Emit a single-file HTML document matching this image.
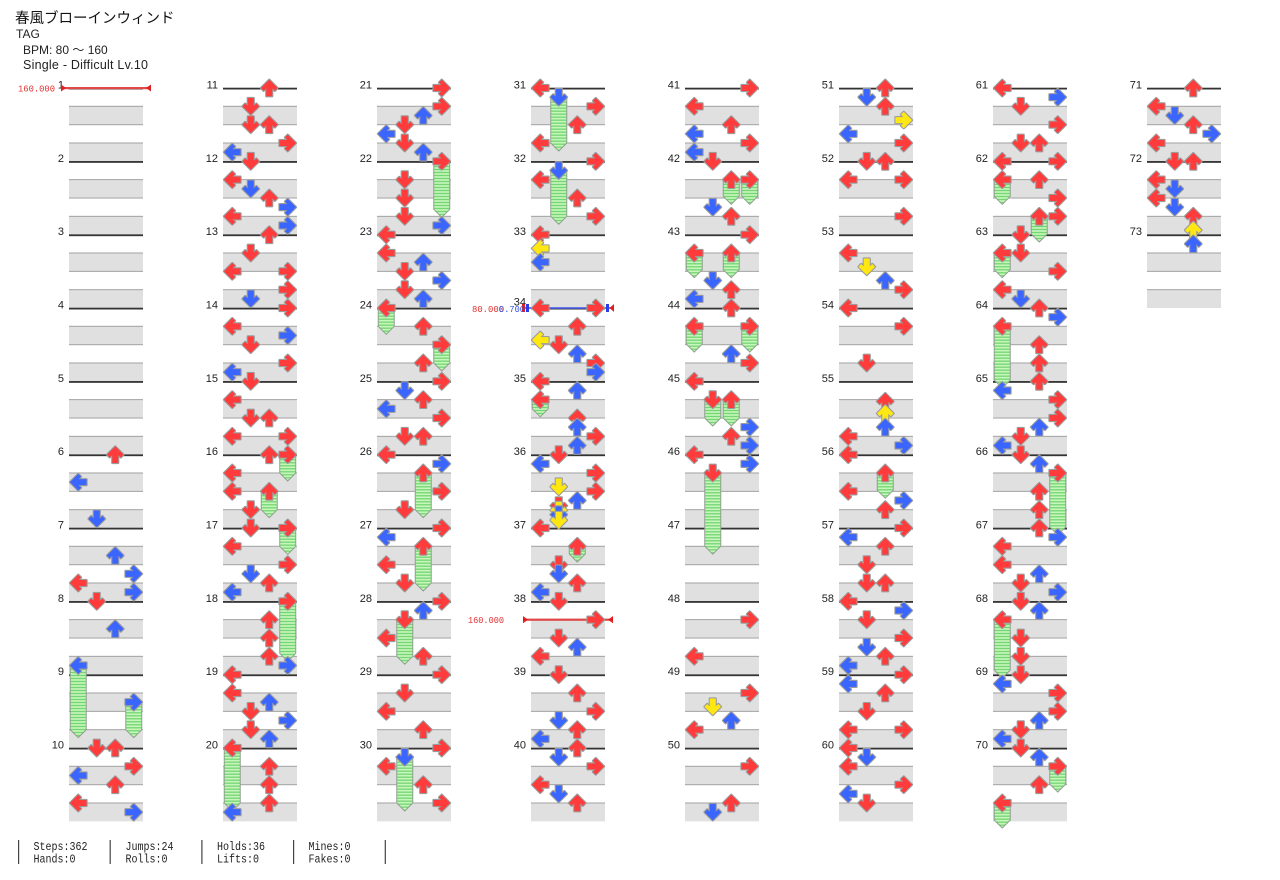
<!DOCTYPE html>
<html><head><meta charset="utf-8">
<style>
html,body{margin:0;padding:0;background:#fff;}
svg{display:block;}
.n{font-family:"Liberation Sans",sans-serif;font-size:11px;fill:#222;text-anchor:end;}
.f{font-family:"Liberation Mono","DejaVu Sans Mono",monospace;font-size:12px;fill:#222;}
.b{font-family:"Liberation Mono","DejaVu Sans Mono",monospace;font-size:9px;}
.h{fill:url(#hs);stroke:#8fa08f;stroke-width:1;}
</style></head>
<body>
<svg width="1280" height="880" viewBox="0 0 1280 880" xmlns="http://www.w3.org/2000/svg">
<defs>
<pattern id="hs" width="20" height="3" patternUnits="userSpaceOnUse"><rect width="20" height="3" fill="#c6f6bb"/><rect y="1.6" width="20" height="1.1" fill="#64d064"/></pattern>
<path id="a" d="M0,-8.3L8.3,0L5.6,2.8L3,0.4V8.3H-3V0.4L-5.6,2.8L-8.3,0Z" stroke="#9c9c9c" stroke-width="2.2" stroke-linejoin="round" paint-order="stroke"/>
<use id="Ur" href="#a" fill="#ff3b3b"/>
<use id="Dr" href="#a" fill="#ff3b3b" transform="rotate(180)"/>
<use id="Lr" href="#a" fill="#ff3b3b" transform="rotate(-90)"/>
<use id="Rr" href="#a" fill="#ff3b3b" transform="rotate(90)"/>
<use id="Ub" href="#a" fill="#3a66ff"/>
<use id="Db" href="#a" fill="#3a66ff" transform="rotate(180)"/>
<use id="Lb" href="#a" fill="#3a66ff" transform="rotate(-90)"/>
<use id="Rb" href="#a" fill="#3a66ff" transform="rotate(90)"/>
<use id="Uy" href="#a" fill="#ffe812"/>
<use id="Dy" href="#a" fill="#ffe812" transform="rotate(180)"/>
<use id="Ly" href="#a" fill="#ffe812" transform="rotate(-90)"/>
<use id="Ry" href="#a" fill="#ffe812" transform="rotate(90)"/>
<g id="M">
<rect y="18.33" width="74" height="18.34" fill="#e0e0e0"/>
<rect y="55" width="74" height="18.33" fill="#e0e0e0"/>
<rect y="17.8" width="74" height="1" fill="#a2a2a2"/>
<rect y="36.2" width="74" height="1" fill="#a2a2a2"/>
<rect y="54.5" width="74" height="1" fill="#a2a2a2"/>
<rect y="-0.3" width="74" height="1.8" fill="#333"/>
</g>
</defs>
<rect width="1280" height="880" fill="#fff"/>

<!-- measure backgrounds -->
<use href="#M" x="69" y="88"/><use href="#M" x="69" y="161.33"/><use href="#M" x="69" y="234.67"/><use href="#M" x="69" y="308"/><use href="#M" x="69" y="381.33"/><use href="#M" x="69" y="454.67"/><use href="#M" x="69" y="528"/><use href="#M" x="69" y="601.33"/><use href="#M" x="69" y="674.67"/><use href="#M" x="69" y="748"/>
<use href="#M" x="223" y="88"/><use href="#M" x="223" y="161.33"/><use href="#M" x="223" y="234.67"/><use href="#M" x="223" y="308"/><use href="#M" x="223" y="381.33"/><use href="#M" x="223" y="454.67"/><use href="#M" x="223" y="528"/><use href="#M" x="223" y="601.33"/><use href="#M" x="223" y="674.67"/><use href="#M" x="223" y="748"/>
<use href="#M" x="377" y="88"/><use href="#M" x="377" y="161.33"/><use href="#M" x="377" y="234.67"/><use href="#M" x="377" y="308"/><use href="#M" x="377" y="381.33"/><use href="#M" x="377" y="454.67"/><use href="#M" x="377" y="528"/><use href="#M" x="377" y="601.33"/><use href="#M" x="377" y="674.67"/><use href="#M" x="377" y="748"/>
<use href="#M" x="531" y="88"/><use href="#M" x="531" y="161.33"/><use href="#M" x="531" y="234.67"/><use href="#M" x="531" y="308"/><use href="#M" x="531" y="381.33"/><use href="#M" x="531" y="454.67"/><use href="#M" x="531" y="528"/><use href="#M" x="531" y="601.33"/><use href="#M" x="531" y="674.67"/><use href="#M" x="531" y="748"/>
<use href="#M" x="685" y="88"/><use href="#M" x="685" y="161.33"/><use href="#M" x="685" y="234.67"/><use href="#M" x="685" y="308"/><use href="#M" x="685" y="381.33"/><use href="#M" x="685" y="454.67"/><use href="#M" x="685" y="528"/><use href="#M" x="685" y="601.33"/><use href="#M" x="685" y="674.67"/><use href="#M" x="685" y="748"/>
<use href="#M" x="839" y="88"/><use href="#M" x="839" y="161.33"/><use href="#M" x="839" y="234.67"/><use href="#M" x="839" y="308"/><use href="#M" x="839" y="381.33"/><use href="#M" x="839" y="454.67"/><use href="#M" x="839" y="528"/><use href="#M" x="839" y="601.33"/><use href="#M" x="839" y="674.67"/><use href="#M" x="839" y="748"/>
<use href="#M" x="993" y="88"/><use href="#M" x="993" y="161.33"/><use href="#M" x="993" y="234.67"/><use href="#M" x="993" y="308"/><use href="#M" x="993" y="381.33"/><use href="#M" x="993" y="454.67"/><use href="#M" x="993" y="528"/><use href="#M" x="993" y="601.33"/><use href="#M" x="993" y="674.67"/><use href="#M" x="993" y="748"/>
<use href="#M" x="1147" y="88"/><use href="#M" x="1147" y="161.33"/><use href="#M" x="1147" y="234.67"/>

<!-- measure numbers -->
<text class="n" x="64" y="88.5">1</text><text class="n" x="64" y="161.8">2</text><text class="n" x="64" y="235.2">3</text><text class="n" x="64" y="308.5">4</text><text class="n" x="64" y="381.8">5</text><text class="n" x="64" y="455.2">6</text><text class="n" x="64" y="528.5">7</text><text class="n" x="64" y="601.8">8</text><text class="n" x="64" y="675.2">9</text><text class="n" x="64" y="748.5">10</text>
<text class="n" x="218" y="88.5">11</text><text class="n" x="218" y="161.8">12</text><text class="n" x="218" y="235.2">13</text><text class="n" x="218" y="308.5">14</text><text class="n" x="218" y="381.8">15</text><text class="n" x="218" y="455.2">16</text><text class="n" x="218" y="528.5">17</text><text class="n" x="218" y="601.8">18</text><text class="n" x="218" y="675.2">19</text><text class="n" x="218" y="748.5">20</text>
<text class="n" x="372" y="88.5">21</text><text class="n" x="372" y="161.8">22</text><text class="n" x="372" y="235.2">23</text><text class="n" x="372" y="308.5">24</text><text class="n" x="372" y="381.8">25</text><text class="n" x="372" y="455.2">26</text><text class="n" x="372" y="528.5">27</text><text class="n" x="372" y="601.8">28</text><text class="n" x="372" y="675.2">29</text><text class="n" x="372" y="748.5">30</text>
<text class="n" x="526" y="88.5">31</text><text class="n" x="526" y="161.8">32</text><text class="n" x="526" y="235.2">33</text><text class="n" x="526" y="305.5">34</text><text class="n" x="526" y="381.8">35</text><text class="n" x="526" y="455.2">36</text><text class="n" x="526" y="528.5">37</text><text class="n" x="526" y="601.8">38</text><text class="n" x="526" y="675.2">39</text><text class="n" x="526" y="748.5">40</text>
<text class="n" x="680" y="88.5">41</text><text class="n" x="680" y="161.8">42</text><text class="n" x="680" y="235.2">43</text><text class="n" x="680" y="308.5">44</text><text class="n" x="680" y="381.8">45</text><text class="n" x="680" y="455.2">46</text><text class="n" x="680" y="528.5">47</text><text class="n" x="680" y="601.8">48</text><text class="n" x="680" y="675.2">49</text><text class="n" x="680" y="748.5">50</text>
<text class="n" x="834" y="88.5">51</text><text class="n" x="834" y="161.8">52</text><text class="n" x="834" y="235.2">53</text><text class="n" x="834" y="308.5">54</text><text class="n" x="834" y="381.8">55</text><text class="n" x="834" y="455.2">56</text><text class="n" x="834" y="528.5">57</text><text class="n" x="834" y="601.8">58</text><text class="n" x="834" y="675.2">59</text><text class="n" x="834" y="748.5">60</text>
<text class="n" x="988" y="88.5">61</text><text class="n" x="988" y="161.8">62</text><text class="n" x="988" y="235.2">63</text><text class="n" x="988" y="308.5">64</text><text class="n" x="988" y="381.8">65</text><text class="n" x="988" y="455.2">66</text><text class="n" x="988" y="528.5">67</text><text class="n" x="988" y="601.8">68</text><text class="n" x="988" y="675.2">69</text><text class="n" x="988" y="748.5">70</text>
<text class="n" x="1142" y="88.5">71</text><text class="n" x="1142" y="161.8">72</text><text class="n" x="1142" y="235.2">73</text>

<!-- BPM / speed changes -->
<rect x="61" y="87" width="90" height="2.2" fill="#e04848"/>
<polygon points="61,84.5 61,91.5 66,88" fill="#e02020"/>
<polygon points="151,84.5 151,91.5 146,88" fill="#e02020"/>
<text class="b" x="18" y="91.5" fill="#e03030" textLength="37" lengthAdjust="spacingAndGlyphs">160.000</text>

<rect x="523" y="618.6" width="90" height="2.2" fill="#e04848"/>
<polygon points="523,616 523,623.3 528,619.7" fill="#e02020"/>
<polygon points="613,616 613,623.3 608,619.7" fill="#e02020"/>
<text class="b" x="468" y="623" fill="#e03030" textLength="36" lengthAdjust="spacingAndGlyphs">160.000</text>

<rect x="523" y="307.2" width="90" height="1.6" fill="#4a5ce8"/>
<rect x="522" y="304" width="3" height="8" fill="#e02020"/>
<rect x="526" y="304" width="3" height="8" fill="#2a3ee8"/>
<rect x="606" y="304" width="3" height="8" fill="#2a3ee8"/>
<polygon points="614,304 614,312 609.5,308" fill="#e02020"/>
<text class="b" x="472" y="312" fill="#e03030" textLength="32" lengthAdjust="spacingAndGlyphs">80.000</text>
<text class="b" x="499" y="312" fill="#3050e8" textLength="26" lengthAdjust="spacingAndGlyphs">0.700</text>

<!-- holds -->
<g transform="translate(69,601.33)"><path class="h" d="M1.25 64.17H17.25V128.33L9.25 136.33L1.25 128.33Z"/></g>
<g transform="translate(69,674.67)"><path class="h" d="M56.75 27.5H72.75V55L64.75 63L56.75 55Z"/></g>
<g transform="translate(223,454.67)"><path class="h" d="M56.75 0H72.75V18.33L64.75 26.33L56.75 18.33Z"/><path class="h" d="M38.25 36.67H54.25V55L46.25 63L38.25 55Z"/></g>
<g transform="translate(223,528)"><path class="h" d="M56.75 0H72.75V18.33L64.75 26.33L56.75 18.33Z"/></g>
<g transform="translate(223,601.33)"><path class="h" d="M56.75 0H72.75V52L64.75 60L56.75 52Z"/></g>
<g transform="translate(223,748)"><path class="h" d="M1.25 0H17.25V55L9.25 63L1.25 55Z"/></g>
<g transform="translate(377,161.33)"><path class="h" d="M56.75 0H72.75V48L64.75 56L56.75 48Z"/></g>
<g transform="translate(377,308)"><path class="h" d="M1.25 0H17.25V18.33L9.25 26.33L1.25 18.33Z"/><path class="h" d="M56.75 36.67H72.75V55L64.75 63L56.75 55Z"/></g>
<g transform="translate(377,454.67)"><path class="h" d="M38.25 18.33H54.25V55L46.25 63L38.25 55Z"/></g>
<g transform="translate(377,528)"><path class="h" d="M38.25 18.33H54.25V55L46.25 63L38.25 55Z"/></g>
<g transform="translate(377,601.33)"><path class="h" d="M19.75 18.33H35.75V55L27.75 63L19.75 55Z"/></g>
<g transform="translate(377,748)"><path class="h" d="M19.75 9.17H35.75V55L27.75 63L19.75 55Z"/></g>
<g transform="translate(531,88)"><path class="h" d="M19.75 9.17H35.75V55L27.75 63L19.75 55Z"/></g>
<g transform="translate(531,161.33)"><path class="h" d="M19.75 9.17H35.75V55L27.75 63L19.75 55Z"/></g>
<g transform="translate(531,381.33)"><path class="h" d="M1.25 18.33H17.25V27.5L9.25 35.5L1.25 27.5Z"/></g>
<g transform="translate(531,528)"><path class="h" d="M38.25 18.33H54.25V26L46.25 34L38.25 26Z"/></g>
<g transform="translate(685,161.33)"><path class="h" d="M38.25 18.33H54.25V35L46.25 43L38.25 35Z"/><path class="h" d="M56.75 18.33H72.75V35L64.75 43L56.75 35Z"/></g>
<g transform="translate(685,234.67)"><path class="h" d="M1.25 18.33H17.25V35L9.25 43L1.25 35Z"/><path class="h" d="M38.25 18.33H54.25V35L46.25 43L38.25 35Z"/></g>
<g transform="translate(685,308)"><path class="h" d="M1.25 18.33H17.25V36L9.25 44L1.25 36Z"/><path class="h" d="M56.75 18.33H72.75V36L64.75 44L56.75 36Z"/></g>
<g transform="translate(685,381.33)"><path class="h" d="M19.75 18.33H35.75V36.67L27.75 44.67L19.75 36.67Z"/><path class="h" d="M38.25 18.33H54.25V36.67L46.25 44.67L38.25 36.67Z"/></g>
<g transform="translate(685,454.67)"><path class="h" d="M19.75 18.33H35.75V91.5L27.75 99.5L19.75 91.5Z"/></g>
<g transform="translate(839,454.67)"><path class="h" d="M38.25 18.33H54.25V35.5L46.25 43.5L38.25 35.5Z"/></g>
<g transform="translate(993,161.33)"><path class="h" d="M1.25 18.33H17.25V35L9.25 43L1.25 35Z"/><path class="h" d="M38.25 55H54.25V72.7L46.25 80.7L38.25 72.7Z"/></g>
<g transform="translate(993,234.67)"><path class="h" d="M1.25 18.33H17.25V35L9.25 43L1.25 35Z"/></g>
<g transform="translate(993,308)"><path class="h" d="M1.25 18.33H17.25V72L9.25 80L1.25 72Z"/></g>
<g transform="translate(993,454.67)"><path class="h" d="M56.75 18.33H72.75V72.3L64.75 80.3L56.75 72.3Z"/></g>
<g transform="translate(993,601.33)"><path class="h" d="M1.25 18.33H17.25V68.7L9.25 76.7L1.25 68.7Z"/></g>
<g transform="translate(993,748)"><path class="h" d="M56.75 18.33H72.75V36L64.75 44L56.75 36Z"/><path class="h" d="M1.25 55H17.25V72L9.25 80L1.25 72Z"/></g>

<!-- arrows: column 1 -->
<g transform="translate(69,454.67)"><use href="#Ur" x="46.25" y="0"/><use href="#Lb" x="9.25" y="27.5"/><use href="#Db" x="27.75" y="64.17"/></g>
<g transform="translate(69,528)"><use href="#Ub" x="46.25" y="27.5"/><use href="#Rb" x="64.75" y="45.83"/><use href="#Lr" x="9.25" y="55"/><use href="#Rb" x="64.75" y="64.17"/></g>
<g transform="translate(69,601.33)"><use href="#Dr" x="27.75" y="0"/><use href="#Ub" x="46.25" y="27.5"/><use href="#Lb" x="9.25" y="64.17"/></g>
<g transform="translate(69,674.67)"><use href="#Rb" x="64.75" y="27.5"/></g>
<g transform="translate(69,748)"><use href="#Dr" x="27.75" y="0"/><use href="#Ur" x="46.25" y="0"/><use href="#Rr" x="64.75" y="18.33"/><use href="#Lb" x="9.25" y="27.5"/><use href="#Ur" x="46.25" y="36.67"/><use href="#Lr" x="9.25" y="55"/><use href="#Rb" x="64.75" y="64.17"/></g>

<!-- column 2 -->
<g transform="translate(223,88)"><use href="#Ur" x="46.25" y="0"/><use href="#Dr" x="27.75" y="18.33"/><use href="#Dr" x="27.75" y="36.67"/><use href="#Ur" x="46.25" y="36.67"/><use href="#Rr" x="64.75" y="55"/><use href="#Lb" x="9.25" y="64.17"/></g>
<g transform="translate(223,161.33)"><use href="#Dr" x="27.75" y="0"/><use href="#Lr" x="9.25" y="18.33"/><use href="#Db" x="27.75" y="27.5"/><use href="#Ur" x="46.25" y="36.67"/><use href="#Rb" x="64.75" y="45.83"/><use href="#Lr" x="9.25" y="55"/><use href="#Rb" x="64.75" y="64.17"/></g>
<g transform="translate(223,234.67)"><use href="#Ur" x="46.25" y="0"/><use href="#Dr" x="27.75" y="18.33"/><use href="#Lr" x="9.25" y="36.67"/><use href="#Rr" x="64.75" y="36.67"/><use href="#Rr" x="64.75" y="55"/><use href="#Db" x="27.75" y="64.17"/></g>
<g transform="translate(223,308)"><use href="#Rr" x="64.75" y="0"/><use href="#Lr" x="9.25" y="18.33"/><use href="#Rb" x="64.75" y="27.5"/><use href="#Dr" x="27.75" y="36.67"/><use href="#Rr" x="64.75" y="55"/><use href="#Lb" x="9.25" y="64.17"/></g>
<g transform="translate(223,381.33)"><use href="#Dr" x="27.75" y="0"/><use href="#Lr" x="9.25" y="18.33"/><use href="#Dr" x="27.75" y="36.67"/><use href="#Ur" x="46.25" y="36.67"/><use href="#Lr" x="9.25" y="55"/><use href="#Rr" x="64.75" y="55"/></g>
<g transform="translate(223,454.67)"><use href="#Ur" x="46.25" y="0"/><use href="#Rr" x="64.75" y="0"/><use href="#Lr" x="9.25" y="18.33"/><use href="#Lr" x="9.25" y="36.67"/><use href="#Ur" x="46.25" y="36.67"/><use href="#Dr" x="27.75" y="55"/></g>
<g transform="translate(223,528)"><use href="#Dr" x="27.75" y="0"/><use href="#Rr" x="64.75" y="0"/><use href="#Lr" x="9.25" y="18.33"/><use href="#Rr" x="64.75" y="36.67"/><use href="#Db" x="27.75" y="45.83"/><use href="#Ur" x="46.25" y="55"/><use href="#Lb" x="9.25" y="64.17"/></g>
<g transform="translate(223,601.33)"><use href="#Rr" x="64.75" y="0"/><use href="#Ur" x="46.25" y="18.33"/><use href="#Ur" x="46.25" y="36.67"/><use href="#Ur" x="46.25" y="55"/><use href="#Rb" x="64.75" y="64.17"/></g>
<g transform="translate(223,674.67)"><use href="#Lr" x="9.25" y="0"/><use href="#Lr" x="9.25" y="18.33"/><use href="#Ub" x="46.25" y="27.5"/><use href="#Dr" x="27.75" y="36.67"/><use href="#Rb" x="64.75" y="45.83"/><use href="#Dr" x="27.75" y="55"/><use href="#Ub" x="46.25" y="64.17"/></g>
<g transform="translate(223,748)"><use href="#Lr" x="9.25" y="0"/><use href="#Ur" x="46.25" y="18.33"/><use href="#Ur" x="46.25" y="36.67"/><use href="#Ur" x="46.25" y="55"/><use href="#Lb" x="9.25" y="64.17"/></g>

<!-- column 3 -->
<g transform="translate(377,88)"><use href="#Rr" x="64.75" y="0"/><use href="#Rr" x="64.75" y="18.33"/><use href="#Ub" x="46.25" y="27.5"/><use href="#Dr" x="27.75" y="36.67"/><use href="#Lb" x="9.25" y="45.83"/><use href="#Dr" x="27.75" y="55"/><use href="#Ub" x="46.25" y="64.17"/></g>
<g transform="translate(377,161.33)"><use href="#Rr" x="64.75" y="0"/><use href="#Dr" x="27.75" y="18.33"/><use href="#Dr" x="27.75" y="36.67"/><use href="#Dr" x="27.75" y="55"/><use href="#Rb" x="64.75" y="64.17"/></g>
<g transform="translate(377,234.67)"><use href="#Lr" x="9.25" y="0"/><use href="#Lr" x="9.25" y="18.33"/><use href="#Ub" x="46.25" y="27.5"/><use href="#Dr" x="27.75" y="36.67"/><use href="#Rb" x="64.75" y="45.83"/><use href="#Dr" x="27.75" y="55"/><use href="#Ub" x="46.25" y="64.17"/></g>
<g transform="translate(377,308)"><use href="#Lr" x="9.25" y="0"/><use href="#Ur" x="46.25" y="18.33"/><use href="#Rr" x="64.75" y="36.67"/><use href="#Ur" x="46.25" y="55"/></g>
<g transform="translate(377,381.33)"><use href="#Rr" x="64.75" y="0"/><use href="#Db" x="27.75" y="9.17"/><use href="#Ur" x="46.25" y="18.33"/><use href="#Lb" x="9.25" y="27.5"/><use href="#Rr" x="64.75" y="36.67"/><use href="#Dr" x="27.75" y="55"/><use href="#Ur" x="46.25" y="55"/></g>
<g transform="translate(377,454.67)"><use href="#Lr" x="9.25" y="0"/><use href="#Rb" x="64.75" y="9.17"/><use href="#Ur" x="46.25" y="18.33"/><use href="#Rr" x="64.75" y="36.67"/><use href="#Dr" x="27.75" y="55"/></g>
<g transform="translate(377,528)"><use href="#Rr" x="64.75" y="0"/><use href="#Lb" x="9.25" y="9.17"/><use href="#Ur" x="46.25" y="18.33"/><use href="#Lr" x="9.25" y="36.67"/><use href="#Dr" x="27.75" y="55"/></g>
<g transform="translate(377,601.33)"><use href="#Rr" x="64.75" y="0"/><use href="#Ub" x="46.25" y="9.17"/><use href="#Dr" x="27.75" y="18.33"/><use href="#Lr" x="9.25" y="36.67"/><use href="#Ur" x="46.25" y="55"/></g>
<g transform="translate(377,674.67)"><use href="#Rr" x="64.75" y="0"/><use href="#Dr" x="27.75" y="18.33"/><use href="#Lr" x="9.25" y="36.67"/><use href="#Ur" x="46.25" y="55"/></g>
<g transform="translate(377,748)"><use href="#Rr" x="64.75" y="0"/><use href="#Db" x="27.75" y="9.17"/><use href="#Lr" x="9.25" y="18.33"/><use href="#Ur" x="46.25" y="36.67"/><use href="#Rr" x="64.75" y="55"/></g>

<!-- column 4 -->
<g transform="translate(531,88)"><use href="#Lr" x="9.25" y="0"/><use href="#Db" x="27.75" y="9.17"/><use href="#Rr" x="64.75" y="18.33"/><use href="#Ur" x="46.25" y="36.67"/><use href="#Lr" x="9.25" y="55"/></g>
<g transform="translate(531,161.33)"><use href="#Rr" x="64.75" y="0"/><use href="#Db" x="27.75" y="9.17"/><use href="#Lr" x="9.25" y="18.33"/><use href="#Ur" x="46.25" y="36.67"/><use href="#Rr" x="64.75" y="55"/></g>
<g transform="translate(531,234.67)"><use href="#Lr" x="9.25" y="0"/><use href="#Ly" x="9.25" y="13.75"/><use href="#Lb" x="9.25" y="27.5"/></g>
<g transform="translate(531,308)"><use href="#Lr" x="9.25" y="0"/><use href="#Rr" x="64.75" y="0"/><use href="#Ur" x="46.25" y="18.33"/><use href="#Ly" x="9.25" y="32.08"/><use href="#Dr" x="27.75" y="36.67"/><use href="#Ub" x="46.25" y="45.83"/><use href="#Rr" x="64.75" y="55"/><use href="#Rb" x="64.75" y="64.17"/></g>
<g transform="translate(531,381.33)"><use href="#Lr" x="9.25" y="0"/><use href="#Ub" x="46.25" y="9.17"/><use href="#Lr" x="9.25" y="18.33"/><use href="#Ur" x="46.25" y="36.67"/><use href="#Ub" x="46.25" y="45.83"/><use href="#Rr" x="64.75" y="55"/><use href="#Ub" x="46.25" y="64.17"/></g>
<g transform="translate(531,454.67)"><use href="#Dr" x="27.75" y="0"/><use href="#Lb" x="9.25" y="9.17"/><use href="#Rr" x="64.75" y="18.33"/><use href="#Dy" x="27.75" y="32.08"/><use href="#Rr" x="64.75" y="36.67"/><use href="#Ub" x="46.25" y="45.83"/><use href="#Dr" x="27.75" y="51"/><use href="#Dy" x="27.75" y="55.5"/><use href="#Db" x="27.75" y="60"/><use href="#Dy" x="27.75" y="65.5"/></g>
<g transform="translate(531,528)"><use href="#Lr" x="9.25" y="0"/><use href="#Ur" x="46.25" y="18.33"/><use href="#Dr" x="27.75" y="36.67"/><use href="#Db" x="27.75" y="45.83"/><use href="#Ur" x="46.25" y="55"/><use href="#Lb" x="9.25" y="64.17"/></g>
<g transform="translate(531,601.33)"><use href="#Dr" x="27.75" y="0"/><use href="#Rr" x="64.75" y="18.33"/><use href="#Dr" x="27.75" y="36.67"/><use href="#Ub" x="46.25" y="45.83"/><use href="#Lr" x="9.25" y="55"/></g>
<g transform="translate(531,674.67)"><use href="#Dr" x="27.75" y="0"/><use href="#Ur" x="46.25" y="18.33"/><use href="#Rr" x="64.75" y="36.67"/><use href="#Db" x="27.75" y="45.83"/><use href="#Ur" x="46.25" y="55"/><use href="#Lb" x="9.25" y="64.17"/></g>
<g transform="translate(531,748)"><use href="#Ur" x="46.25" y="0"/><use href="#Db" x="27.75" y="9.17"/><use href="#Rr" x="64.75" y="18.33"/><use href="#Lr" x="9.25" y="36.67"/><use href="#Db" x="27.75" y="45.83"/><use href="#Ur" x="46.25" y="55"/></g>

<!-- column 5 -->
<g transform="translate(685,88)"><use href="#Rr" x="64.75" y="0"/><use href="#Lr" x="9.25" y="18.33"/><use href="#Ur" x="46.25" y="36.67"/><use href="#Lb" x="9.25" y="45.83"/><use href="#Rr" x="64.75" y="55"/><use href="#Lb" x="9.25" y="64.17"/></g>
<g transform="translate(685,161.33)"><use href="#Dr" x="27.75" y="0"/><use href="#Ur" x="46.25" y="18.33"/><use href="#Rr" x="64.75" y="18.33"/><use href="#Db" x="27.75" y="45.83"/><use href="#Ur" x="46.25" y="55"/></g>
<g transform="translate(685,234.67)"><use href="#Rr" x="64.75" y="0"/><use href="#Lr" x="9.25" y="18.33"/><use href="#Ur" x="46.25" y="18.33"/><use href="#Db" x="27.75" y="45.83"/><use href="#Ur" x="46.25" y="55"/><use href="#Lb" x="9.25" y="64.17"/></g>
<g transform="translate(685,308)"><use href="#Ur" x="46.25" y="0"/><use href="#Lr" x="9.25" y="18.33"/><use href="#Rr" x="64.75" y="18.33"/><use href="#Ub" x="46.25" y="45.83"/><use href="#Rr" x="64.75" y="55"/></g>
<g transform="translate(685,381.33)"><use href="#Lr" x="9.25" y="0"/><use href="#Dr" x="27.75" y="18.33"/><use href="#Ur" x="46.25" y="18.33"/><use href="#Rb" x="64.75" y="45.83"/><use href="#Ur" x="46.25" y="55"/><use href="#Rb" x="64.75" y="64.17"/></g>
<g transform="translate(685,454.67)"><use href="#Lr" x="9.25" y="0"/><use href="#Rb" x="64.75" y="9.17"/><use href="#Dr" x="27.75" y="18.33"/></g>
<g transform="translate(685,601.33)"><use href="#Rr" x="64.75" y="18.33"/><use href="#Lr" x="9.25" y="55"/></g>
<g transform="translate(685,674.67)"><use href="#Rr" x="64.75" y="18.33"/><use href="#Dy" x="27.75" y="32.08"/><use href="#Ub" x="46.25" y="45.83"/><use href="#Lr" x="9.25" y="55"/></g>
<g transform="translate(685,748)"><use href="#Rr" x="64.75" y="18.33"/><use href="#Ur" x="46.25" y="55"/><use href="#Db" x="27.75" y="64.17"/></g>

<!-- column 6 -->
<g transform="translate(839,88)"><use href="#Ur" x="46.25" y="0"/><use href="#Db" x="27.75" y="9.17"/><use href="#Ur" x="46.25" y="18.33"/><use href="#Ry" x="64.75" y="32.08"/><use href="#Lb" x="9.25" y="45.83"/><use href="#Rr" x="64.75" y="55"/></g>
<g transform="translate(839,161.33)"><use href="#Dr" x="27.75" y="0"/><use href="#Ur" x="46.25" y="0"/><use href="#Lr" x="9.25" y="18.33"/><use href="#Rr" x="64.75" y="18.33"/><use href="#Rr" x="64.75" y="55"/></g>
<g transform="translate(839,234.67)"><use href="#Lr" x="9.25" y="18.33"/><use href="#Dy" x="27.75" y="32.08"/><use href="#Ub" x="46.25" y="45.83"/><use href="#Rr" x="64.75" y="55"/></g>
<g transform="translate(839,308)"><use href="#Lr" x="9.25" y="0"/><use href="#Rr" x="64.75" y="18.33"/><use href="#Dr" x="27.75" y="55"/></g>
<g transform="translate(839,381.33)"><use href="#Ur" x="46.25" y="20"/><use href="#Uy" x="46.25" y="32.08"/><use href="#Ub" x="46.25" y="45.83"/><use href="#Lr" x="9.25" y="55"/><use href="#Rb" x="64.75" y="64.17"/></g>
<g transform="translate(839,454.67)"><use href="#Lr" x="9.25" y="0"/><use href="#Ur" x="46.25" y="18.33"/><use href="#Lr" x="9.25" y="36.67"/><use href="#Rb" x="64.75" y="45.83"/><use href="#Ur" x="46.25" y="55"/></g>
<g transform="translate(839,528)"><use href="#Rr" x="64.75" y="0"/><use href="#Lb" x="9.25" y="9.17"/><use href="#Ur" x="46.25" y="18.33"/><use href="#Dr" x="27.75" y="36.67"/><use href="#Dr" x="27.75" y="55"/><use href="#Ur" x="46.25" y="55"/></g>
<g transform="translate(839,601.33)"><use href="#Lr" x="9.25" y="0"/><use href="#Rb" x="64.75" y="9.17"/><use href="#Dr" x="27.75" y="18.33"/><use href="#Rr" x="64.75" y="36.67"/><use href="#Db" x="27.75" y="45.83"/><use href="#Ur" x="46.25" y="55"/><use href="#Lb" x="9.25" y="64.17"/></g>
<g transform="translate(839,674.67)"><use href="#Rr" x="64.75" y="0"/><use href="#Lb" x="9.25" y="9.17"/><use href="#Ur" x="46.25" y="18.33"/><use href="#Dr" x="27.75" y="36.67"/><use href="#Lr" x="9.25" y="55"/><use href="#Rr" x="64.75" y="55"/></g>
<g transform="translate(839,748)"><use href="#Lr" x="9.25" y="0"/><use href="#Db" x="27.75" y="9.17"/><use href="#Lr" x="9.25" y="18.33"/><use href="#Rr" x="64.75" y="36.67"/><use href="#Lb" x="9.25" y="45.83"/><use href="#Dr" x="27.75" y="55"/></g>

<!-- column 7 -->
<g transform="translate(993,88)"><use href="#Lr" x="9.25" y="0"/><use href="#Rb" x="64.75" y="9.17"/><use href="#Dr" x="27.75" y="18.33"/><use href="#Rr" x="64.75" y="36.67"/><use href="#Dr" x="27.75" y="55"/><use href="#Ur" x="46.25" y="55"/></g>
<g transform="translate(993,161.33)"><use href="#Lr" x="9.25" y="0"/><use href="#Rr" x="64.75" y="0"/><use href="#Lr" x="9.25" y="18.33"/><use href="#Ur" x="46.25" y="18.33"/><use href="#Rr" x="64.75" y="36.67"/><use href="#Rr" x="64.75" y="55"/><use href="#Ur" x="46.25" y="55"/></g>
<g transform="translate(993,234.67)"><use href="#Dr" x="27.75" y="0"/><use href="#Dr" x="27.75" y="18.33"/><use href="#Lr" x="9.25" y="18.33"/><use href="#Rr" x="64.75" y="36.67"/><use href="#Lr" x="9.25" y="55"/><use href="#Db" x="27.75" y="64.17"/></g>
<g transform="translate(993,308)"><use href="#Ur" x="46.25" y="0"/><use href="#Rb" x="64.75" y="9.17"/><use href="#Lr" x="9.25" y="18.33"/><use href="#Ur" x="46.25" y="36.67"/><use href="#Ur" x="46.25" y="55"/></g>
<g transform="translate(993,381.33)"><use href="#Ur" x="46.25" y="0"/><use href="#Lb" x="9.25" y="9.17"/><use href="#Rr" x="64.75" y="18.33"/><use href="#Rr" x="64.75" y="36.67"/><use href="#Ub" x="46.25" y="45.83"/><use href="#Dr" x="27.75" y="55"/><use href="#Lb" x="9.25" y="64.17"/></g>
<g transform="translate(993,454.67)"><use href="#Dr" x="27.75" y="0"/><use href="#Ub" x="46.25" y="9.17"/><use href="#Rr" x="64.75" y="18.33"/><use href="#Ur" x="46.25" y="36.67"/><use href="#Ur" x="46.25" y="55"/></g>
<g transform="translate(993,528)"><use href="#Ur" x="46.25" y="0"/><use href="#Rb" x="64.75" y="9.17"/><use href="#Lr" x="9.25" y="18.33"/><use href="#Lr" x="9.25" y="36.67"/><use href="#Ub" x="46.25" y="45.83"/><use href="#Dr" x="27.75" y="55"/><use href="#Rb" x="64.75" y="64.17"/></g>
<g transform="translate(993,601.33)"><use href="#Dr" x="27.75" y="0"/><use href="#Ub" x="46.25" y="9.17"/><use href="#Lr" x="9.25" y="18.33"/><use href="#Dr" x="27.75" y="36.67"/><use href="#Dr" x="27.75" y="55"/></g>
<g transform="translate(993,674.67)"><use href="#Dr" x="27.75" y="0"/><use href="#Lb" x="9.25" y="9.17"/><use href="#Rr" x="64.75" y="18.33"/><use href="#Rr" x="64.75" y="36.67"/><use href="#Ub" x="46.25" y="45.83"/><use href="#Dr" x="27.75" y="55"/><use href="#Lb" x="9.25" y="64.17"/></g>
<g transform="translate(993,748)"><use href="#Dr" x="27.75" y="0"/><use href="#Ub" x="46.25" y="9.17"/><use href="#Rr" x="64.75" y="18.33"/><use href="#Ur" x="46.25" y="36.67"/><use href="#Lr" x="9.25" y="55"/></g>

<!-- column 8 -->
<g transform="translate(1147,88)"><use href="#Ur" x="46.25" y="0"/><use href="#Lr" x="9.25" y="18.33"/><use href="#Db" x="27.75" y="27.5"/><use href="#Ur" x="46.25" y="36.67"/><use href="#Rb" x="64.75" y="45.83"/><use href="#Lr" x="9.25" y="55"/></g>
<g transform="translate(1147,161.33)"><use href="#Dr" x="27.75" y="0"/><use href="#Ur" x="46.25" y="0"/><use href="#Lr" x="9.25" y="18.33"/><use href="#Db" x="27.75" y="27.5"/><use href="#Lr" x="9.25" y="36.67"/><use href="#Db" x="27.75" y="45.83"/><use href="#Ur" x="46.25" y="55"/><use href="#Uy" x="46.25" y="68.75"/></g>
<g transform="translate(1147,234.67)"><use href="#Ub" x="46.25" y="9.17"/></g>

<!-- header -->
<text x="15" y="23" font-family="'Liberation Sans','Noto Sans CJK JP',sans-serif" font-size="14.5" fill="#111">春風ブローインウィンド</text>
<text x="16" y="38" font-family="'Liberation Sans',sans-serif" font-size="12" fill="#222">TAG</text>
<text x="23" y="54" font-family="'Liberation Sans','Noto Sans CJK JP',sans-serif" font-size="12" fill="#222">BPM: 80 ～ 160</text>
<text x="23" y="69" font-family="'Liberation Sans',sans-serif" font-size="12.5" fill="#222" textLength="125">Single - Difficult Lv.10</text>

<!-- footer -->
<g fill="#444">
<rect x="18" y="840" width="1.2" height="24"/>
<rect x="109.6" y="840" width="1.2" height="24"/>
<rect x="201.3" y="840" width="1.2" height="24"/>
<rect x="293" y="840" width="1.2" height="24"/>
<rect x="384.7" y="840" width="1.2" height="24"/>
</g>
<text class="f" x="33.5" y="850" textLength="54" lengthAdjust="spacingAndGlyphs">Steps:362</text>
<text class="f" x="33.5" y="862.5" textLength="42" lengthAdjust="spacingAndGlyphs">Hands:0</text>
<text class="f" x="125.5" y="850" textLength="48" lengthAdjust="spacingAndGlyphs">Jumps:24</text>
<text class="f" x="125.5" y="862.5" textLength="42" lengthAdjust="spacingAndGlyphs">Rolls:0</text>
<text class="f" x="217" y="850" textLength="48" lengthAdjust="spacingAndGlyphs">Holds:36</text>
<text class="f" x="217" y="862.5" textLength="42" lengthAdjust="spacingAndGlyphs">Lifts:0</text>
<text class="f" x="308.5" y="850" textLength="42" lengthAdjust="spacingAndGlyphs">Mines:0</text>
<text class="f" x="308.5" y="862.5" textLength="42" lengthAdjust="spacingAndGlyphs">Fakes:0</text>
</svg>
</body></html>
